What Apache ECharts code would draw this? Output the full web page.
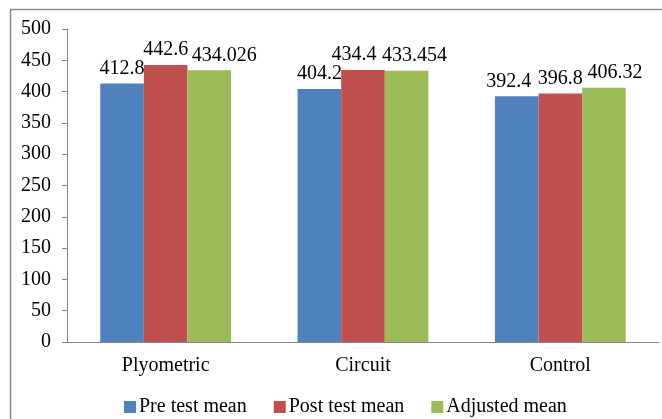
<!DOCTYPE html>
<html>
<head>
<meta charset="utf-8">
<script src="https://cdn.jsdelivr.net/npm/echarts@6/dist/echarts.min.js"></script>
<style>html,body{margin:0;padding:0;background:#fff;}#c{width:662px;height:419px;}</style>
</head>
<body>
<div id="c"></div>
<script>
const categories = ['Plyometric', 'Circuit', 'Control'];
const preTest = [412.8, 404.2, 392.4];
const postTest = [442.6, 434.4, 396.8];
const adjusted = [434.026, 433.454, 406.32];
const seriesNames = ['Pre test mean', 'Post test mean', 'Adjusted mean'];
const colors = ['#4F81BD', '#C0504D', '#9BBB59'];
// horizontal nudges of the value labels (pixels) per series, as in the reference layout
const labelShift = [[0, 0, -8], [0, -9, 0], [15, 8, 11]];

const font = '"Liberation Serif", "Times New Roman", serif';
const chart = echarts.init(document.getElementById('c'), null, {renderer: 'canvas'});
const mk = (si) => {
  const vals = [preTest, postTest, adjusted][si];
  return {
    name: seriesNames[si], type: 'bar', barWidth: '22.1%', barGap: '0%',
    data: vals.map((v, i) => ({value: v, label: {offset: [labelShift[si][i], 0]}})),
    itemStyle: {color: colors[si]},
    label: {show: true, position: 'top', distance: 5, color: '#000', fontFamily: font, fontSize: 20},
    emphasis: {disabled: true}
  };
};
chart.setOption({
  animation: false,
  graphic: [{type: 'rect', shape: {x: 10.5, y: 9.5, width: 720, height: 500}, style: {fill: 'none', stroke: '#8a8a8a', lineWidth: 1.5}, silent: true}],
  grid: {left: 67, right: 3, top: 29, bottom: 77, containLabel: false},
  legend: {
    data: seriesNames, left: 119, top: 392, itemWidth: 12, itemHeight: 12, itemGap: 27,
    icon: 'rect', textStyle: {fontFamily: font, fontSize: 20, color: '#000', padding: [0, 0, 0, -2]}
  },
  xAxis: {
    type: 'category', data: categories,
    axisLine: {lineStyle: {color: '#868686', width: 1}},
    axisTick: {length: 5, lineStyle: {color: '#868686'}},
    axisLabel: {fontFamily: font, fontSize: 20, color: '#000', margin: 14}
  },
  yAxis: {
    type: 'value', min: 0, max: 500, interval: 50,
    axisLine: {show: true, lineStyle: {color: '#868686', width: 1}},
    axisTick: {show: true, length: 5, lineStyle: {color: '#868686'}},
    splitLine: {show: false},
    axisLabel: {fontFamily: font, fontSize: 20, color: '#000', margin: 16}
  },
  series: [mk(0), mk(1), mk(2)]
});
</script>
</body>
</html>
